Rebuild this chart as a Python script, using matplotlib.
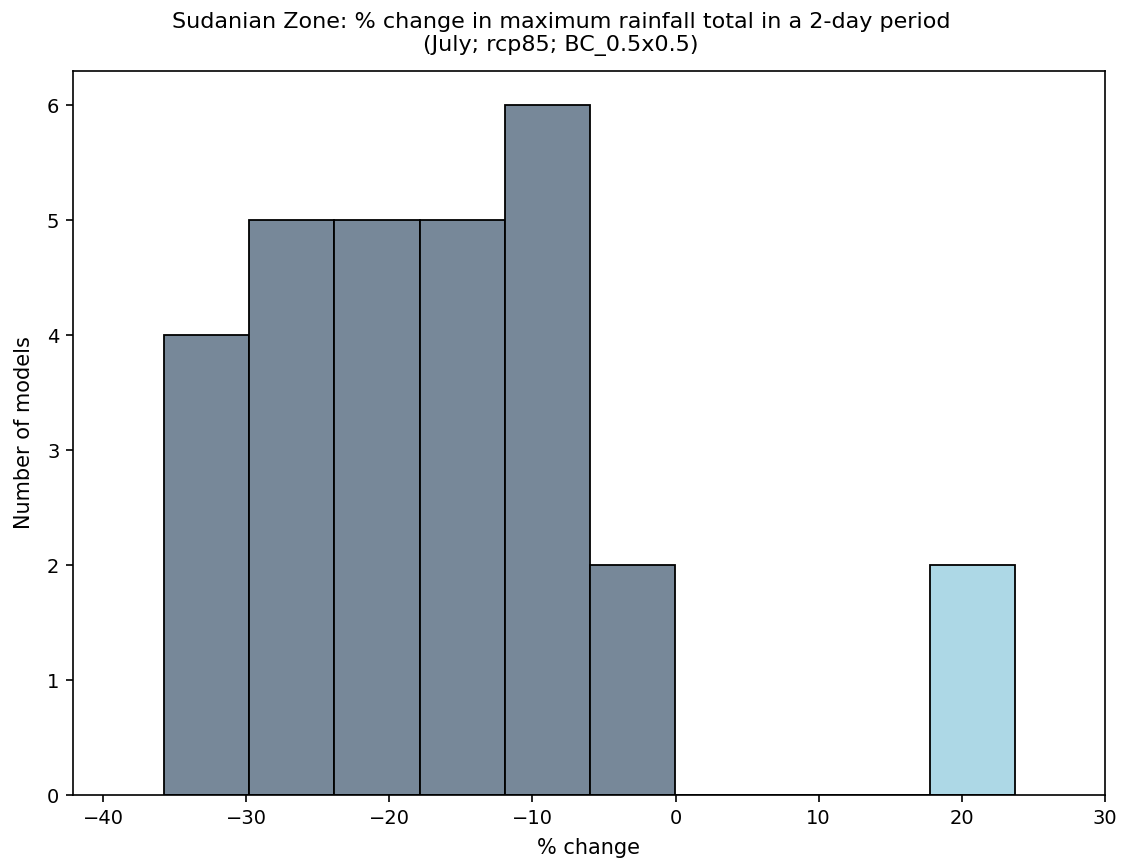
import matplotlib
matplotlib.use("Agg")
import matplotlib.pyplot as plt
import numpy as np

# histogram bins (10 bins between data min and max) and counts
bin_edges = np.linspace(-35.73, 23.72, 11)
counts = [4, 5, 5, 5, 6, 2, 0, 0, 0, 2]

lefts = bin_edges[:-1]
widths = np.diff(bin_edges)
colors = ['lightslategray' if e < -0.01 else 'lightblue' for e in lefts]

fig = plt.figure(figsize=(11.22, 8.65), dpi=100)
ax = fig.add_axes([0.0653, 0.0809, 0.9193, 0.837])

ax.bar(lefts, counts, width=widths, align='edge', color=colors,
       edgecolor='black', linewidth=1.3)

ax.set_xlim(-42.1, 30)
ax.set_ylim(0, 6.3)
ax.tick_params(labelsize=14, length=5, width=1.2, pad=5)
for s in ax.spines.values():
    s.set_linewidth(1.2)

ax.set_xlabel('% change', fontsize=15, labelpad=7)
ax.set_ylabel('Number of models', fontsize=15, labelpad=9)
fig.suptitle('Sudanian Zone: % change in maximum rainfall total in a 2-day period\n(July; rcp85; BC_0.5x0.5)',
             fontsize=16, y=0.986)

plt.savefig("out.png")
